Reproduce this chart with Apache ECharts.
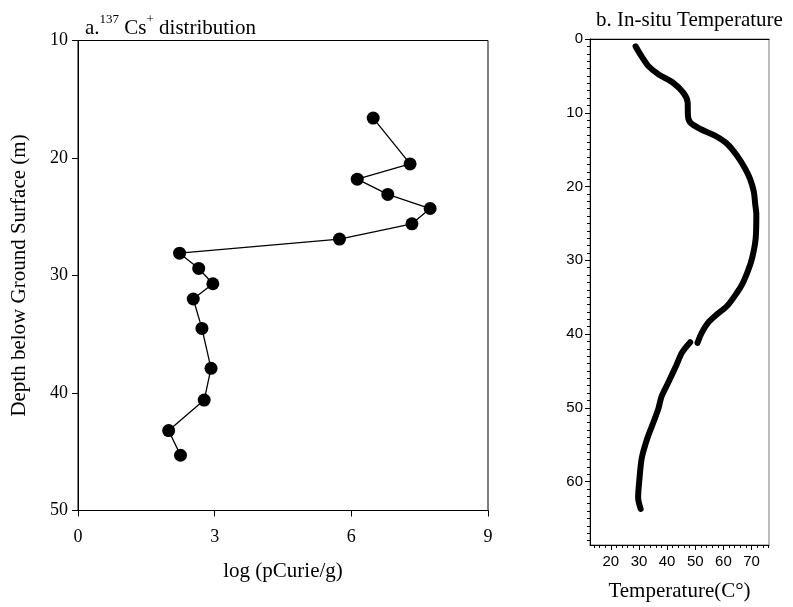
<!DOCTYPE html>
<html>
<head>
<meta charset="utf-8">
<script src="https://cdn.jsdelivr.net/npm/echarts@6/dist/echarts.min.js"></script>
<style>html,body{margin:0;padding:0;background:#fff}#c{width:793px;height:607px}</style>
</head>
<body>
<div id="c"></div>
<script>
// Panel a: 137Cs+ distribution
var cesiumLog   = [6.48, 7.29, 6.13, 6.80, 7.73, 7.33, 5.74, 2.23, 2.65, 2.96, 2.53, 2.72, 2.92, 2.77, 1.99, 2.25];
var cesiumDepth = [16.6, 20.5, 21.8, 23.1, 24.3, 25.6, 26.9, 28.1, 29.4, 30.7, 32.0, 34.5, 37.9, 40.6, 43.2, 45.3];
var cesiumXTicks = [0, 3, 6, 9];
var cesiumYTicks = [10, 20, 30, 40, 50];

// Panel b: in-situ temperature (null = break in the log)
var tempC     = [28.8, 31.0, 33.4, 37.0, 42.0, 45.8, 47.3, 47.4, 48.2, 51.8, 57.0, 61.3, 64.8, 67.6, 69.5, 70.8, 71.3, 71.7, 71.5, 70.8, 69.6, 67.0, 64.8, 61.3, 57.5, 54.5, 52.2, 50.8, null, 48.2, 45.3, 43.2, 40.5, 38.0, 36.9, 35.2, 33.0, 31.0, 30.2, 29.7, 30.6];
var tempDepth = [1.0, 2.4, 3.7, 4.8, 5.9, 7.3, 8.6, 10.4, 11.3, 12.2, 13.1, 14.2, 15.8, 17.5, 19.0, 20.7, 22.4, 23.8, 26.9, 28.7, 30.5, 33.0, 34.4, 36.2, 37.4, 38.5, 39.9, 41.2, null, 41.1, 42.5, 44.3, 46.5, 48.5, 50.1, 51.9, 54.1, 56.8, 59.5, 62.2, 63.7];
var tempXTicks = [20, 30, 40, 50, 60, 70];
var tempXMinor = [14, 16, 18, 22, 24, 26, 28, 32, 34, 36, 38, 42, 44, 46, 48, 52, 54, 56, 58, 62, 64, 66, 68, 72, 74, 76];
var tempYTicks = [0, 10, 20, 30, 40, 50, 60];
var tempYMinor = [];
for (var k = 1; k <= 68; k++) { if (k % 10 !== 0) tempYMinor.push(k); }

var serif = 'Liberation Serif';
var sans = 'Liberation Sans';

var cesiumData = cesiumLog.map(function (v, i) { return [v, cesiumDepth[i]]; });
var tempData = tempC.map(function (v, i) { return v === null ? '-' : [v, tempDepth[i]]; });

var chart = echarts.init(document.getElementById('c'), null, {renderer: 'canvas'});
chart.setOption({
  animation: false,
  backgroundColor: '#fff',
  title: [{
    text: '{a|a.}{s|137}{a| Cs}{s|+}{a| distribution}',
    left: 80, top: 8,
    textStyle: {
      fontWeight: 'normal',
      rich: {
        a: {fontFamily: serif, fontSize: 21, fontWeight: 'normal', color: '#000', verticalAlign: 'bottom', lineHeight: 26},
        s: {fontFamily: serif, fontSize: 13, fontWeight: 'normal', color: '#000', verticalAlign: 'top', lineHeight: 26}
      }
    }
  }, {
    text: 'b. In-situ Temperature',
    left: 591, top: 5,
    textStyle: {fontFamily: serif, fontSize: 21, fontWeight: 'normal', color: '#000'}
  }],
  grid: [
    {left: 78, top: 40.5, width: 410, height: 470, show: true, borderColor: '#000', borderWidth: 1, backgroundColor: 'transparent'},
    {left: 590, top: 39, width: 179, height: 513, show: true, borderColor: '#777', borderWidth: 1, backgroundColor: 'transparent'}
  ],
  xAxis: [
    {
      gridIndex: 0, type: 'value', min: 0, max: 9, interval: 3,
      name: 'log (pCurie/g)', nameLocation: 'middle', nameGap: 50,
      nameTextStyle: {fontFamily: serif, fontSize: 21, color: '#000'},
      axisLine: {show: true, onZero: false, lineStyle: {color: '#000', width: 1}},
      axisTick: {show: true, inside: false, length: 6, lineStyle: {color: '#000'}},
      axisLabel: {fontFamily: serif, fontSize: 18, color: '#000', margin: 18, customValues: cesiumXTicks},
      splitLine: {show: false}
    },
    {
      gridIndex: 1, type: 'value', min: 12.6, max: 76.2, position: 'bottom',
      name: 'Temperature(C°)', nameLocation: 'middle', nameGap: 36,
      nameTextStyle: {fontFamily: serif, fontSize: 21, color: '#000'},
      axisLine: {show: true, onZero: false, lineStyle: {color: '#000', width: 1}},
      axisTick: {show: true, length: 5, customValues: tempXTicks, lineStyle: {color: '#000'}},
      axisLabel: {fontFamily: sans, fontSize: 15, color: '#000', margin: 9, customValues: tempXTicks},
      splitLine: {show: false}
    },
    {
      gridIndex: 1, type: 'value', min: 12.6, max: 76.2, position: 'bottom', offset: 0,
      axisLine: {show: false, onZero: false},
      axisTick: {show: true, length: 3, customValues: tempXMinor, lineStyle: {color: '#000'}},
      axisLabel: {show: false},
      splitLine: {show: false}
    },
    {
      gridIndex: 1, type: 'value', min: 12.6, max: 76.2, position: 'top',
      axisLine: {show: true, onZero: false, lineStyle: {color: '#000', width: 1}},
      axisTick: {show: false}, axisLabel: {show: false}, splitLine: {show: false}
    }
  ],
  yAxis: [
    {
      gridIndex: 0, type: 'value', min: 10, max: 50, interval: 10, inverse: true,
      name: 'Depth below Ground Surface (m)', nameLocation: 'middle', nameGap: 48, nameRotate: 90,
      nameTextStyle: {fontFamily: serif, fontSize: 21, color: '#000'},
      axisLine: {show: true, onZero: false, lineStyle: {color: '#000', width: 1}},
      axisTick: {show: true, length: 6, lineStyle: {color: '#000'}},
      axisLabel: {fontFamily: serif, fontSize: 18, color: '#000', margin: 10, customValues: cesiumYTicks},
      splitLine: {show: false}
    },
    {
      gridIndex: 1, type: 'value', min: 0, max: 68.6, inverse: true, position: 'left',
      axisLine: {show: true, onZero: false, lineStyle: {color: '#000', width: 1}},
      axisTick: {show: true, length: 5, customValues: tempYTicks, lineStyle: {color: '#000'}},
      axisLabel: {fontFamily: sans, fontSize: 15, color: '#000', margin: 7, customValues: tempYTicks},
      splitLine: {show: false}
    },
    {
      gridIndex: 1, type: 'value', min: 0, max: 68.6, inverse: true, position: 'left', offset: 0,
      axisLine: {show: false, onZero: false},
      axisTick: {show: true, length: 3, customValues: tempYMinor, lineStyle: {color: '#000'}},
      axisLabel: {show: false},
      splitLine: {show: false}
    }
  ],
  series: [
    {
      type: 'line', xAxisIndex: 0, yAxisIndex: 0, data: cesiumData,
      symbol: 'circle', symbolSize: 13, showSymbol: true,
      lineStyle: {color: '#000', width: 1.3},
      itemStyle: {color: '#000', borderWidth: 0},
      z: 3
    },
    {
      type: 'line', xAxisIndex: 1, yAxisIndex: 1, data: tempData,
      smooth: 0.3, symbol: 'none', connectNulls: false,
      lineStyle: {color: '#000', width: 6, cap: 'round'},
      z: 3
    }
  ]
});
</script>
</body>
</html>
